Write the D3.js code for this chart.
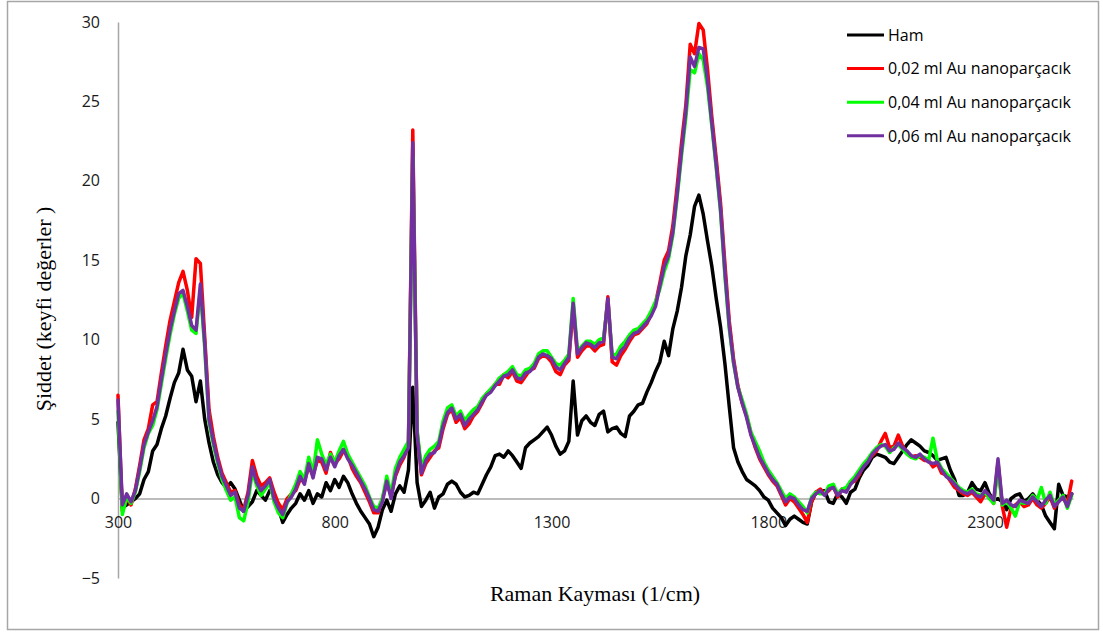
<!DOCTYPE html>
<html>
<head>
<meta charset="utf-8">
<script src="https://cdn.jsdelivr.net/npm/d3@7"></script>
<style>
  body { margin: 0; background: #ffffff; }
  svg { display: block; }
  .tick text { font-family: "Open Sans", Lato, sans-serif; font-size: 16px; fill: #1a1a1a; }
  .legend text { font-family: "Open Sans", Lato, sans-serif; font-size: 16px; fill: #000; }
  .title { font-family: "Liberation Serif", "Times New Roman", serif; font-size: 22px; fill: #000; }
</style>
</head>
<body>
<svg id="chart" width="1103" height="632"></svg>
<script>
// Raman shift (1/cm) sampling positions
const ramanShift = [
  300,310,320,330,340,350,360,370,380,390,
  400,410,420,430,440,450,460,470,480,490,
  500,510,520,530,540,550,560,570,580,590,
  600,610,620,630,640,650,660,670,680,690,
  700,710,720,730,740,750,760,770,780,790,
  800,810,820,830,840,850,860,870,880,890,
  900,910,920,930,940,950,960,970,980,990,
  1000,1010,1020,1030,1040,1050,1060,1070,1080,1090,
  1100,1110,1120,1130,1140,1150,1160,1170,1180,1190,
  1200,1210,1220,1230,1240,1250,1260,1270,1280,1290,
  1300,1310,1320,1330,1340,1350,1360,1370,1380,1390,
  1400,1410,1420,1430,1440,1450,1460,1470,1480,1490,
  1500,1510,1520,1530,1540,1550,1560,1570,1580,1590,
  1600,1610,1620,1630,1640,1650,1660,1670,1680,1690,
  1700,1710,1720,1730,1740,1750,1760,1770,1780,1790,
  1800,1810,1820,1830,1840,1850,1860,1870,1880,1890,
  1900,1910,1920,1930,1940,1950,1960,1970,1980,1990,
  2000,2010,2020,2030,2040,2050,2060,2070,2080,2090,
  2100,2110,2120,2130,2140,2150,2160,2170,2180,2190,
  2200,2210,2220,2230,2240,2250,2260,2270,2280,2290,
  2300,2310,2320,2330,2340,2350,2360,2370,2380,2390,
  2400,2410,2420,2430,2440,2450,2460,2470,2480,2490,
  2500
];

// Intensity (arbitrary units) – untreated sample
const ham = [
  4.8,-0.6,-0.4,-0.2,0.0,0.3,1.2,1.7,3.0,3.4,
  4.4,5.2,6.3,7.3,7.9,9.4,8.1,7.7,6.1,7.4,
  5.0,3.5,2.3,1.5,1.0,0.7,1.0,0.6,-0.1,-0.8,
  -0.5,-0.2,0.5,0.2,-0.1,0.5,0.3,-0.6,-1.5,-1.0,
  -0.6,-0.3,0.3,-0.1,0.5,-0.3,0.3,0.1,1.0,0.5,
  1.2,0.7,1.4,1.0,0.3,-0.3,-0.8,-1.2,-1.6,-2.4,
  -1.8,-0.7,-0.1,-0.8,0.3,0.8,0.4,1.8,7.0,1.0,
  -0.5,-0.1,0.4,-0.6,0.1,0.3,0.9,1.1,0.9,0.4,
  0.1,0.2,0.4,0.3,0.9,1.5,2.0,2.7,2.8,2.6,
  3.0,2.7,2.3,1.9,3.2,3.5,3.7,3.9,4.2,4.5,
  4.0,3.3,2.8,3.0,3.6,7.4,4.0,4.9,5.2,4.8,
  4.6,5.3,5.5,4.2,4.4,4.5,4.1,3.9,5.2,5.5,
  5.9,6.0,6.7,7.3,8.0,8.6,9.9,9.0,10.7,11.8,
  13.3,15.3,16.6,18.4,19.1,17.9,16.2,14.6,12.6,10.8,
  8.5,5.8,3.2,2.3,1.7,1.2,1.0,0.8,0.5,0.1,
  -0.1,-0.6,-0.9,-1.2,-1.7,-1.3,-1.1,-1.3,-1.5,-1.6,
  -0.2,0.4,0.5,0.5,-0.2,-0.3,0.3,0.1,-0.3,0.4,
  0.6,1.3,1.8,2.1,2.6,2.8,2.7,2.6,2.3,2.2,
  2.6,3.0,3.4,3.7,3.5,3.3,3.0,2.9,2.7,2.4,
  2.5,2.6,1.8,1.2,0.2,0.2,0.4,1.0,0.6,0.5,
  1.0,0.3,-0.1,0.0,-0.2,-0.7,0.0,0.2,0.3,-0.2,
  0.0,0.3,-0.1,-0.4,-1.1,-1.5,-1.9,0.9,0.2,0.1,
  0.3
];

// 0,02 ml Au nanoparticles
const au002 = [
  6.5,-0.8,0.0,-0.4,0.6,2.1,3.7,4.4,5.9,6.1,
  7.9,9.6,11.2,12.4,13.6,14.3,13.1,11.4,15.1,14.8,
  10.2,5.6,3.9,2.6,1.6,1.0,0.4,0.5,-0.4,-0.7,
  0.4,2.4,1.4,0.8,1.0,1.3,0.4,-0.3,-0.7,0.0,
  0.3,0.5,1.2,1.1,2.0,1.5,2.4,2.3,1.6,2.9,
  2.2,2.5,3.0,2.7,1.9,1.4,1.0,0.4,-0.2,-0.9,
  -0.9,0.0,1.0,0.2,1.4,2.1,2.6,3.4,23.2,4.2,
  1.5,2.2,2.6,3.0,3.2,4.4,5.3,5.6,4.8,5.1,
  4.4,4.7,5.2,5.5,6.0,6.6,6.8,7.2,7.2,7.8,
  7.6,8.0,7.4,7.3,7.7,8.1,8.2,8.8,9.0,8.9,
  8.6,8.0,7.8,8.4,8.7,12.1,8.9,9.3,9.6,9.6,
  9.3,9.6,9.7,12.7,8.6,8.4,9.0,9.4,9.9,10.3,
  10.4,10.7,11.0,11.6,12.3,13.6,15.0,15.6,17.2,19.7,
  22.4,24.8,28.6,28.0,29.9,29.5,27.0,24.0,21.4,18.6,
  14.8,11.2,8.8,7.1,6.0,5.2,4.1,3.2,2.5,2.0,
  1.5,1.1,0.8,0.2,-0.4,0.0,-0.2,-0.6,-1.0,-1.5,
  -0.2,0.4,0.6,0.3,0.5,0.8,0.1,0.6,0.5,1.0,
  1.1,1.5,2.1,2.4,2.7,3.0,3.6,4.1,3.2,3.3,
  4.0,3.3,2.9,2.6,2.7,2.6,2.4,2.4,2.0,2.2,
  1.6,1.5,1.1,0.7,0.5,0.3,0.2,0.4,0.1,-0.2,
  0.3,0.1,-0.3,2.3,-0.5,-1.8,-0.6,-0.4,-0.2,-0.5,
  -0.4,0.0,-0.4,-0.6,-0.3,0.1,-0.6,-0.1,0.0,-0.3,
  1.1
];

// 0,04 ml Au nanoparticles
const au004 = [
  5.5,-1.0,0.1,-0.3,0.4,1.7,3.2,4.1,4.6,5.6,
  7.2,8.8,10.3,11.6,12.6,12.9,11.8,10.6,10.4,13.1,
  9.5,4.8,3.4,2.2,1.2,0.5,-0.1,0.1,-1.2,-1.4,
  -0.2,1.7,0.8,0.2,0.6,1.0,-0.2,-0.9,-1.2,-0.3,
  0.3,0.9,1.7,1.2,2.6,1.6,3.7,2.8,2.1,2.8,
  2.3,3.0,3.6,2.8,2.3,1.8,1.3,0.8,0.1,-0.5,
  -0.6,0.0,1.4,0.3,1.9,2.6,3.1,3.6,21.5,4.3,
  1.9,2.7,3.1,3.3,3.6,4.9,5.7,5.9,5.2,5.5,
  4.9,5.3,5.6,5.8,6.3,6.6,6.9,7.2,7.6,7.8,
  8.0,8.3,7.8,7.7,8.1,8.2,8.5,9.1,9.3,9.3,
  8.9,8.5,8.4,8.7,9.1,12.6,9.3,9.6,9.9,9.9,
  9.7,10.0,10.1,12.4,9.0,9.1,9.6,9.9,10.3,10.6,
  10.7,11.0,11.3,11.8,12.4,13.2,14.3,15.1,16.6,19.0,
  21.6,24.0,27.0,26.8,28.0,27.6,25.9,23.4,20.8,18.0,
  14.0,10.7,8.5,7.0,6.2,5.3,4.2,3.6,3.0,2.3,
  1.8,1.4,1.0,0.5,0.0,0.3,0.1,-0.2,-0.5,-0.9,
  0.1,0.4,0.3,0.3,0.8,0.9,0.3,0.6,0.7,1.1,
  1.4,1.8,2.2,2.5,2.9,3.2,3.4,3.3,2.9,3.2,
  3.4,3.1,2.8,2.6,2.5,2.7,2.6,2.4,3.8,2.4,
  1.9,1.6,1.3,1.0,0.7,0.5,0.4,0.6,0.3,0.2,
  0.4,0.0,-0.3,1.9,-0.4,-0.2,-0.6,-1.1,-0.2,-0.3,
  -0.2,0.2,-0.1,0.7,-0.3,0.4,-0.4,-0.1,0.2,-0.6,
  0.2
];

// 0,06 ml Au nanoparticles
const au006 = [
  6.2,-0.4,0.3,-0.2,0.5,1.9,3.4,4.2,4.9,5.8,
  7.5,9.1,10.6,11.8,12.9,13.1,12.1,10.9,10.6,13.5,
  9.8,5.0,3.6,2.4,1.4,0.8,0.2,0.4,-0.6,-0.8,
  0.2,2.0,1.0,0.5,0.8,1.2,0.0,-0.6,-1.0,-0.2,
  0.1,0.6,1.4,0.9,2.2,1.3,2.6,2.5,1.8,2.6,
  2.0,2.7,3.1,2.5,2.1,1.6,1.1,0.6,0.0,-0.7,
  -0.8,-0.2,1.1,0.0,1.5,2.3,2.7,3.2,22.4,4.0,
  1.6,2.4,2.8,2.9,3.4,4.6,5.4,5.7,5.0,5.3,
  4.6,5.0,5.3,5.6,6.1,6.5,6.7,7.1,7.4,7.7,
  7.8,8.1,7.6,7.5,7.9,8.0,8.3,8.9,9.1,9.0,
  8.8,8.3,8.1,8.5,8.9,12.3,9.1,9.5,9.8,9.7,
  9.5,9.8,9.9,12.6,8.9,8.8,9.3,9.6,10.1,10.4,
  10.5,10.8,11.1,11.5,12.1,13.4,14.6,15.3,16.8,19.2,
  21.9,24.4,27.8,27.2,28.4,28.3,26.3,23.6,21.0,18.2,
  14.3,10.9,8.6,7.0,6.0,5.1,4.0,3.3,2.6,2.1,
  1.6,1.2,0.9,0.3,-0.2,0.1,0.0,-0.4,-0.7,-0.8,
  0.0,0.3,0.5,0.2,0.6,0.7,0.2,0.5,0.4,0.9,
  1.2,1.6,2.0,2.3,2.8,3.1,3.3,3.4,3.0,3.1,
  3.5,3.2,3.0,2.7,2.6,2.8,2.5,2.3,2.2,2.3,
  1.8,1.4,1.2,0.9,0.6,0.4,0.3,0.5,0.2,0.1,
  0.5,0.2,-0.1,2.5,-0.3,-0.1,-0.4,-0.5,-0.1,-0.2,
  -0.3,0.1,-0.2,-0.5,-0.1,0.2,-0.5,-0.2,0.1,-0.5,
  0.3
];

const seriesNames = ["Ham", "0,02 ml Au nanoparçacık", "0,04 ml Au nanoparçacık", "0,06 ml Au nanoparçacık"];
const seriesColors = ["#000000", "#ff0000", "#00ff00", "#7030a0"];
const xTickValues = [300, 800, 1300, 1800, 2300];
const yTickValues = [-5, 0, 5, 10, 15, 20, 25, 30];
const xTitle = "Raman Kayması (1/cm)";
const yTitle = "Şiddet (keyfi değerler )";

const seriesData = [ham, au002, au004, au006];

const svg = d3.select("#chart");
const axisColor = "#a6a6a6";

// outer frame of the chart area
svg.append("rect")
  .attr("x", 7.5).attr("y", 1.5)
  .attr("width", 1091).attr("height", 628)
  .attr("fill", "none").attr("stroke", axisColor).attr("stroke-width", 1.5);

const x = d3.scaleLinear().domain([300, 2503]).range([118, 1073]);
const y = d3.scaleLinear().domain([-5, 30]).range([578, 22]);

// vertical axis
const gy = svg.append("g")
  .attr("transform", `translate(${x(300)},0)`)
  .call(d3.axisLeft(y).tickValues(yTickValues).tickSize(0).tickSizeOuter(0).tickPadding(18));
gy.select(".domain").attr("stroke", axisColor).attr("stroke-width", 1.5);

// horizontal axis crossing at zero
const gx = svg.append("g")
  .attr("transform", `translate(0,${y(0)})`)
  .call(d3.axisBottom(x).tickValues(xTickValues).tickFormat(d3.format("d")).tickSize(0).tickSizeOuter(0).tickPadding(18));
gx.select(".domain").attr("stroke", axisColor).attr("stroke-width", 1.5);

// spectra
const line = d3.line()
  .x((d, i) => x(ramanShift[i]))
  .y(d => y(d));

svg.append("g").selectAll("path")
  .data(seriesData)
  .join("path")
  .attr("d", line)
  .attr("fill", "none")
  .attr("stroke", (d, i) => seriesColors[i])
  .attr("stroke-width", 3.5)
  .attr("stroke-linejoin", "round")
  .attr("stroke-linecap", "round");

// axis titles
svg.append("text").attr("class", "title")
  .attr("x", 595).attr("y", 601)
  .attr("text-anchor", "middle")
  .text(xTitle);

svg.append("text").attr("class", "title")
  .attr("transform", "translate(51,309) rotate(-90)")
  .attr("text-anchor", "middle")
  .text(yTitle);

// legend
const legend = svg.append("g").attr("class", "legend");
const items = legend.selectAll("g")
  .data(seriesNames)
  .join("g")
  .attr("transform", (d, i) => `translate(847,${35 + i * 33.6})`);
items.append("line")
  .attr("x1", 0).attr("x2", 37)
  .attr("stroke", (d, i) => seriesColors[i])
  .attr("stroke-width", 3);
items.append("text")
  .attr("x", 41).attr("dy", "0.36em")
  .text(d => d);
</script>
</body>
</html>
